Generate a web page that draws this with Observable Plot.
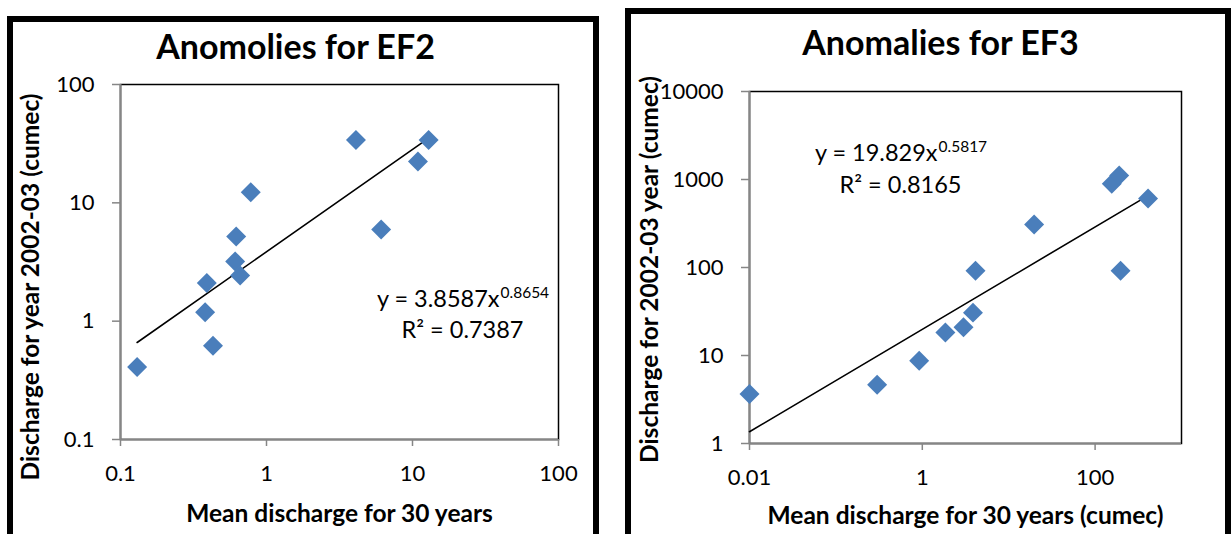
<!DOCTYPE html>
<html>
<head>
<meta charset="utf-8">
<script src="https://cdn.jsdelivr.net/npm/d3@7"></script>
<script src="https://cdn.jsdelivr.net/npm/@observablehq/plot@0.6"></script>
<style>
  body { margin: 0; background: #fff; }
  #page { position: relative; width: 1231px; height: 534px; overflow: hidden; background: #fff; }
  .chart { position: absolute; top: 0; }
  .box { position: absolute; border: 6px solid #000; box-sizing: border-box; pointer-events: none; }
</style>
</head>
<body>
<div id="page"></div>
<script>
// EF2: 30-year mean discharge vs 2002-03 discharge (cumec)
const ef2Mean      = [0.13, 0.38, 0.39, 0.43, 0.61, 0.62, 0.66, 0.78, 4.1, 6.1, 10.9, 12.9];
const ef2Discharge = [0.41, 1.19, 2.10, 0.62, 3.2, 5.2, 2.43, 12.3, 34, 5.96, 22.4, 34];
const ef2XTicks = [0.1, 1, 10, 100];
const ef2YTicks = [0.1, 1, 10, 100];
const ef2Coef = 3.8587, ef2Exp = 0.8654, ef2R2 = "0.7387";

// EF3: 30-year mean discharge vs 2002-03 discharge (cumec)
const ef3Mean      = [0.01, 0.30, 0.92, 1.85, 3.0, 3.86, 4.13, 19.7, 156, 190, 197, 410];
const ef3Discharge = [3.65, 4.65, 8.7, 18.2, 20.9, 30.7, 92, 308, 894, 1111, 92, 608];
const ef3XTicks = [0.01, 1, 100];
const ef3YTicks = [1, 10, 100, 1000, 10000];
const ef3Coef = 19.829, ef3Exp = 0.5817, ef3R2 = "0.8165";

const FONT = "Lato, 'Open Sans', sans-serif";
const BLUE = "#4a7ebb";
const AXIS = "#868686";

function scatter(cfg) {
  const points = cfg.mean.map((x, i) => ({x, y: cfg.discharge[i]}));
  // power-law trendline y = a·x^b between the smallest and largest mean discharge
  const xs = d3.extent(cfg.mean);
  const fit = xs.map(x => ({x, y: cfg.coef * Math.pow(x, cfg.exp)}));
  const label = (text, o) => Plot.text([text], {text: d => d, fill: "#000", lineAnchor: "middle", ...o});

  return Plot.plot({
    width: cfg.width,
    height: 534,
    marginTop: cfg.margin[0], marginRight: cfg.margin[1], marginBottom: cfg.margin[2], marginLeft: cfg.margin[3],
    style: {fontFamily: FONT, fontSize: "22px", color: "#000", background: "transparent", overflow: "visible"},
    x: {type: "log", domain: cfg.xDomain},
    y: {type: "log", domain: cfg.yDomain},
    marks: [
      Plot.frame({stroke: "#000", strokeWidth: 1.5}),
      Plot.ruleX([cfg.xDomain[0]], {stroke: AXIS, strokeWidth: 2}),
      Plot.ruleY([cfg.yDomain[0]], {stroke: AXIS, strokeWidth: 2}),
      Plot.axisX({ticks: cfg.xTicks, tickFormat: d => String(d), tickSize: 7, tickPadding: 19, stroke: AXIS, strokeWidth: 1.5, fill: "#000", fontSize: 22, label: null}),
      Plot.axisY({ticks: cfg.yTicks, tickFormat: d => String(d), tickSize: 8, tickPadding: 18, stroke: AXIS, strokeWidth: 1.5, fill: "#000", fontSize: 22, label: null}),
      Plot.line(fit, {x: "x", y: "y", stroke: "#000", strokeWidth: 1.6}),
      Plot.dot(points, {x: "x", y: "y", symbol: "diamond2", r: 9, fill: BLUE, stroke: null}),
      label(cfg.title, {frameAnchor: "top", textAnchor: "middle", dx: cfg.titlePos[0], dy: cfg.titlePos[1], fontSize: 34, fontWeight: "bold"}),
      label(cfg.yLabel, {frameAnchor: "left", textAnchor: "middle", rotate: -90, dx: cfg.yLabelPos[0], dy: cfg.yLabelPos[1], fontSize: 24.5, fontWeight: "bold"}),
      label(cfg.xLabel, {frameAnchor: "bottom", textAnchor: "middle", dy: cfg.xLabelDy, fontSize: 24.5, fontWeight: "bold"}),
      label(`y = ${cfg.coef}x`, {frameAnchor: "top-left", textAnchor: "end", dx: cfg.eqPos[0], dy: cfg.eqPos[1], fontSize: 23.5}),
      label(String(cfg.exp), {frameAnchor: "top-left", textAnchor: "start", dx: cfg.eqPos[0] + 1, dy: cfg.eqPos[1] - 6, fontSize: 15.5}),
      label(`R² = ${cfg.r2}`, {frameAnchor: "top-left", textAnchor: "middle", dx: cfg.r2Pos[0], dy: cfg.r2Pos[1], fontSize: 23.5})
    ]
  });
}

const page = document.getElementById("page");

const left = scatter({
  width: 615, margin: [84, 57, 95, 120],
  mean: ef2Mean, discharge: ef2Discharge,
  xTicks: ef2XTicks, yTicks: ef2YTicks, xDomain: [0.1, 100], yDomain: [0.1, 100],
  coef: ef2Coef, exp: ef2Exp, r2: ef2R2,
  title: "Anomolies for EF2", titlePos: [-44, -36],
  yLabel: "Discharge for year 2002-03 (cumec)", yLabelPos: [-89, 25],
  xLabel: "Mean discharge for 30 years", xLabelDy: 75,
  eqPos: [379, 215], r2Pos: [342, 246]
});
left.classList.add("chart");
left.style.left = "0px";
page.appendChild(left);

const right = scatter({
  width: 616, margin: [91, 50, 91, 134],
  mean: ef3Mean, discharge: ef3Discharge,
  xTicks: ef3XTicks, yTicks: ef3YTicks, xDomain: [0.01, 1000], yDomain: [1, 10000],
  coef: ef3Coef, exp: ef3Exp, r2: ef3R2,
  title: "Anomalies for EF3", titlePos: [-25, -47],
  yLabel: "Discharge for 2002-03 year (cumec)", yLabelPos: [-99, 2],
  xLabel: "Mean discharge for 30 years (cumec)", xLabelDy: 73,
  eqPos: [188, 62], r2Pos: [151, 94]
});
right.classList.add("chart");
right.style.left = "615px";
page.appendChild(right);

// chart-area borders
for (const [l, t, w] of [[7, 16, 592], [625, 8, 606]]) {
  const b = document.createElement("div");
  b.className = "box";
  Object.assign(b.style, {left: l + "px", top: t + "px", width: w + "px", height: "600px"});
  page.appendChild(b);
}
</script>
</body>
</html>
